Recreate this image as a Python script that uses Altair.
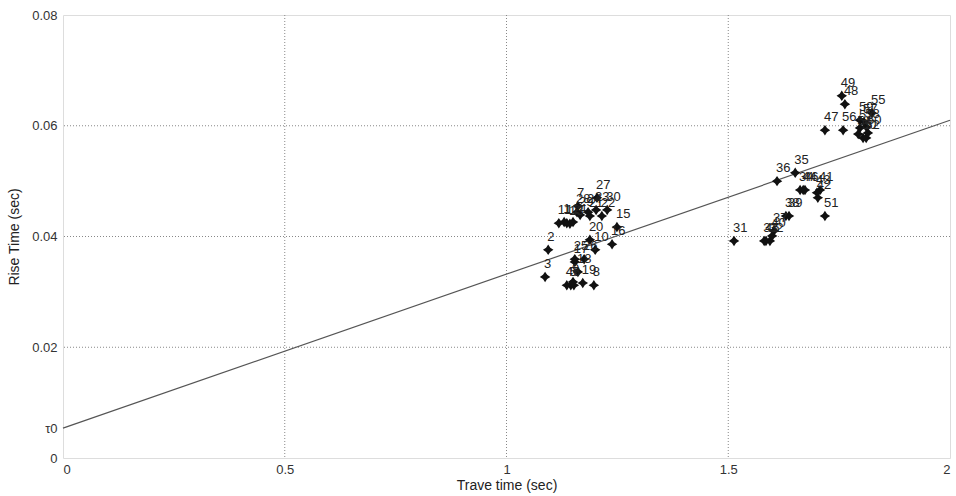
import altair as alt
import pandas as pd

# Measured travel time vs. rise time, one labelled point per record
ids = list(range(1, 61))
trave_time = [
    1.130, 1.094, 1.087, 1.136, 1.145, 1.152, 1.161, 1.197, 1.150, 1.200,
    1.118, 1.136, 1.143, 1.150, 1.249, 1.238, 1.154, 1.161, 1.172, 1.188,
    1.188, 1.215, 1.202, 1.184, 1.154, 1.175, 1.204, 1.159, 1.166, 1.227,
    1.513, 1.594, 1.581, 1.662, 1.651, 1.610, 1.603, 1.630, 1.637, 1.599,
    1.707, 1.702, 1.700, 1.669, 1.585, 1.673, 1.718, 1.763, 1.756, 1.804,
    1.718, 1.811, 1.797, 1.793, 1.824, 1.759, 1.806, 1.811, 1.797, 1.815,
]
rise_time = [
    0.0426, 0.0376, 0.0327, 0.0312, 0.0312, 0.0312, 0.0455, 0.0312, 0.0318, 0.0376,
    0.0424, 0.0424, 0.0423, 0.0426, 0.0417, 0.0386, 0.0354, 0.0336, 0.0316, 0.0394,
    0.0437, 0.0437, 0.0448, 0.0444, 0.0359, 0.0359, 0.0470, 0.0444, 0.0439, 0.0448,
    0.0392, 0.0392, 0.0392, 0.0484, 0.0515, 0.0500, 0.0410, 0.0437, 0.0437, 0.0401,
    0.0484, 0.0470, 0.0479, 0.0484, 0.0392, 0.0484, 0.0592, 0.0639, 0.0654, 0.0578,
    0.0437, 0.0578, 0.0596, 0.0585, 0.0623, 0.0592, 0.0607, 0.0598, 0.0610, 0.0587,
]

# Fitted linear trend, intercept tau0
TAU0 = 0.0054
fit_x = [0.0, 2.0]
fit_y = [TAU0, 0.061]

# Grid positions and axis ticks
grid_x = [0.5, 1.0, 1.5]
grid_y = [0.02, 0.04, 0.06]
x_ticks = [0, 0.5, 1, 1.5, 2]
y_ticks = [0, TAU0, 0.02, 0.04, 0.06, 0.08]

FONT = "Liberation Sans"
# four-pointed star marker
STAR = "M0,-1L0.4,-0.4L1,0L0.4,0.4L0,1L-0.4,0.4L-1,0L-0.4,-0.4Z"

pts = pd.DataFrame({"x": trave_time, "y": rise_time, "id": [str(i) for i in ids]})
fit = pd.DataFrame({"x": fit_x, "y": fit_y})
gx = pd.DataFrame({"x": grid_x})
gy = pd.DataFrame({"y": grid_y})

xscale = alt.Scale(domain=[0, 2], nice=False, zero=False)
yscale = alt.Scale(domain=[0, 0.08], nice=False, zero=False)

x_axis = alt.Axis(
    values=x_ticks, format="~g", grid=False, ticks=False, domain=False,
    labelFont=FONT, labelFontSize=13, labelColor="#333", labelPadding=5,
    title="Trave time (sec)", titleFont=FONT, titleFontSize=14,
    titleFontWeight="normal", titleColor="#222", titlePadding=2,
)
y_axis = alt.Axis(
    values=y_ticks, grid=False, ticks=False, domain=False,
    labelExpr="datum.value == 0 ? '0' : (datum.value < 0.01 ? 'τ0' : format(datum.value, '.2f'))",
    labelFont=FONT, labelFontSize=13, labelColor="#333", labelPadding=6,
    title="Rise Time (sec)", titleFont=FONT, titleFontSize=14,
    titleFontWeight="normal", titleColor="#222", titlePadding=10,
)

vgrid = alt.Chart(gx).mark_rule(color="#888", strokeDash=[1, 2], strokeWidth=1).encode(
    x=alt.X("x:Q", scale=xscale, axis=x_axis)
)
hgrid = alt.Chart(gy).mark_rule(color="#888", strokeDash=[1, 2], strokeWidth=1).encode(
    y=alt.Y("y:Q", scale=yscale, axis=y_axis)
)
line = alt.Chart(fit).mark_line(color="#555", strokeWidth=1.2).encode(
    x=alt.X("x:Q", scale=xscale), y=alt.Y("y:Q", scale=yscale)
)
markers = alt.Chart(pts).mark_point(
    shape=STAR, filled=True, color="#111", size=110, opacity=1
).encode(
    x=alt.X("x:Q", scale=xscale), y=alt.Y("y:Q", scale=yscale)
)
labels = alt.Chart(pts).mark_text(
    align="left", baseline="alphabetic", dx=-1, dy=-9,
    font=FONT, fontSize=13, color="#222"
).encode(
    x=alt.X("x:Q", scale=xscale), y=alt.Y("y:Q", scale=yscale), text="id:N"
)

chart = (
    alt.layer(vgrid, hgrid, line, markers, labels)
    .properties(
        width=887, height=443,
        autosize=alt.AutoSizeParams(type="none"),
        padding={"left": 63, "top": 15, "right": 6, "bottom": 38},
    )
    .configure_view(stroke="#bbb", strokeWidth=1)
    .configure(background="white")
)

chart.save("out.html", embed_options={"renderer": "svg", "actions": False})
